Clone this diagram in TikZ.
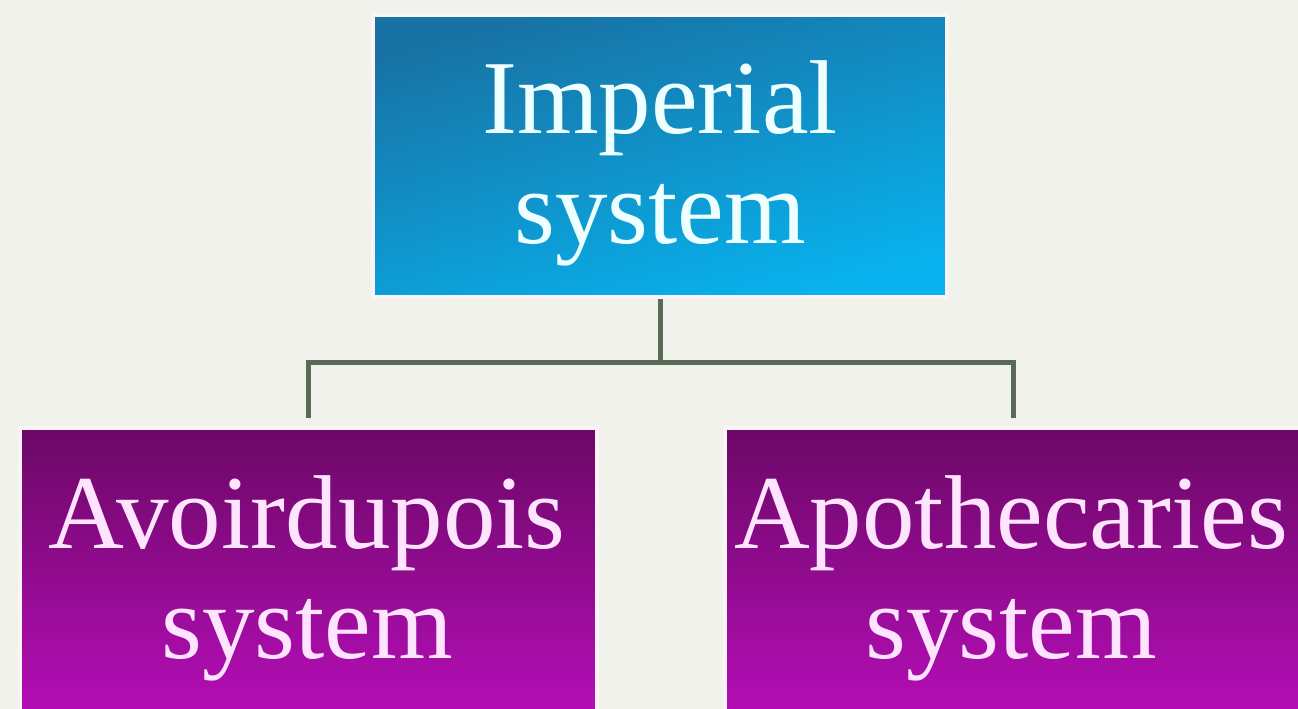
\documentclass[tikz,border=0pt]{standalone}
\usepackage{fontspec}
\setmainfont{Liberation Serif}
\definecolor{bgc}{HTML}{F2F2EC}
\definecolor{blueTop}{HTML}{1872A4}
\definecolor{blueBot}{HTML}{08B2EE}
\definecolor{purTop}{HTML}{6C0866}
\definecolor{purBot}{HTML}{B40EB6}
\definecolor{halo}{HTML}{FAF4F6}
\definecolor{connc}{HTML}{5A6B55}
\definecolor{txtBlue}{HTML}{EEFFFF}
\definecolor{txtPur}{HTML}{FFE4FF}
\tikzset{
  box/.style={rectangle, inner sep=0pt, draw=halo, line width=4pt},
  bluebox/.style={box, top color=blueTop, bottom color=blueBot, shading angle=15},
  purbox/.style={box, top color=purTop, bottom color=purBot},
  lbl/.style={inner sep=0pt, anchor=north, align=center,
    font=\fontsize{105}{110}\selectfont},
  conn/.style={draw=connc, line width=5pt}
}
\begin{document}
\begin{tikzpicture}[x=1pt,y=-1pt]
\fill[bgc] (0,0) rectangle (1298,709);
\useasboundingbox (0,0) rectangle (1298,709);
\begin{scope}
\clip (0,0) rectangle (1298,709);
\node[bluebox, minimum width=574pt, minimum height=282pt] (imp) at (660,156) {};
\node[purbox, minimum width=577pt, minimum height=284pt] (av) at (308.5,570) {};
\node[purbox, minimum width=576pt, minimum height=284pt] (ap) at (1013,570) {};
\node[lbl, text=txtBlue] (impt) at (660,60) {Imperial\\system};
\node[lbl, text=txtPur] (avt) at (307,475.5) {Avoirdupois\\system};
\node[lbl, text=txtPur] (apt) at (1011,475.5) {Apothecaries\\system};
\coordinate (j) at (660,362);
\draw[conn] (imp.south) -- (j);
\draw[conn, shorten >=8pt] (j) -| (av.north);
\draw[conn, shorten >=8pt] (j) -| (ap.north);
\end{scope}
\end{tikzpicture}
\end{document}
